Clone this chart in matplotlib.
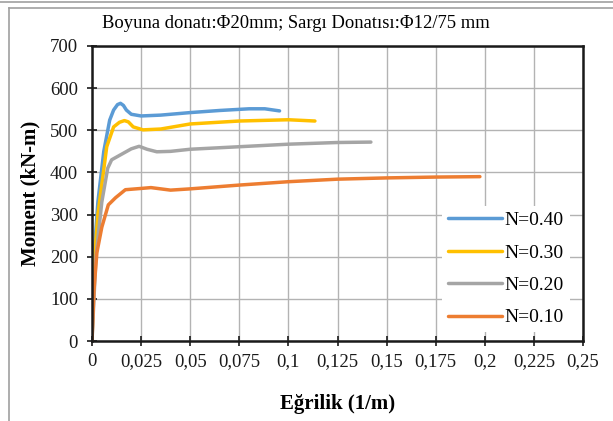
import matplotlib.pyplot as plt
import numpy as np
from matplotlib.lines import Line2D
from matplotlib.ticker import FuncFormatter, MultipleLocator

plt.rcParams['font.family'] = ['Liberation Serif', 'DejaVu Serif']

# curvature (1/m) and moment (kN-m)
k_40 = [0, 0.001, 0.003, 0.006, 0.009, 0.011, 0.013, 0.0145, 0.016, 0.0175,
        0.020, 0.025, 0.035, 0.050, 0.065, 0.080, 0.088, 0.0955]
m_40 = [0, 200, 330, 450, 524, 548, 561, 564, 559, 548,
        538, 534, 536, 542, 547, 551, 551, 546]

k_30 = [0, 0.001, 0.003, 0.0075, 0.011, 0.014, 0.0165, 0.0185, 0.021, 0.026,
        0.035, 0.050, 0.075, 0.100, 0.1135]
m_30 = [0, 180, 300, 461, 508, 519, 523, 520, 508, 501,
        503, 515, 522, 525, 522]

k_20 = [0, 0.002, 0.005, 0.008, 0.010, 0.015, 0.020, 0.024, 0.028, 0.033,
        0.040, 0.050, 0.075, 0.100, 0.125, 0.142]
m_20 = [0, 200, 330, 410, 430, 443, 456, 462, 455, 449,
        450, 455, 461, 467, 471, 472]

k_10 = [0, 0.001, 0.0025, 0.005, 0.0083, 0.012, 0.017, 0.025, 0.030, 0.035,
        0.040, 0.050, 0.075, 0.100, 0.125, 0.150, 0.175, 0.1975]
m_10 = [0, 120, 210, 270, 323, 340, 359, 362, 364, 361,
        358, 361, 370, 378, 384, 387, 389, 390]

labels = ['N=0.40', 'N=0.30', 'N=0.20', 'N=0.10']
colors = ['#5B9BD5', '#FFC000', '#A5A5A5', '#ED7D31']

fig = plt.figure(figsize=(6.13, 4.21), dpi=100)
ax = fig.add_axes([92 / 613, 1 - 341 / 421, 491 / 613, 295 / 421])

series = [(k_40, m_40), (k_30, m_30), (k_20, m_20), (k_10, m_10)]
for (k, m), lab, col in zip(series, labels, colors):
    ax.plot(k, m, color=col, lw=2.5, label=lab, solid_capstyle='round',
            solid_joinstyle='round')

ax.set_xlim(0, 0.25)
ax.set_ylim(0, 700)
ax.xaxis.set_major_locator(MultipleLocator(0.025))
ax.yaxis.set_major_locator(MultipleLocator(100))
ax.xaxis.set_major_formatter(FuncFormatter(
    lambda v, p: '0' if abs(v) < 1e-9 else ('%g' % round(v, 3)).replace('.', ',')))
ax.grid(True, color='#b3b3b3', lw=1.0)
ax.set_axisbelow(True)
for s in ax.spines.values():
    s.set_linewidth(1.8)
    s.set_color('#1a1a1a')
ax.tick_params(direction='inout', length=7, width=1.2, labelsize=13.5,
               colors='#1a1a1a')
ax.tick_params(axis='y', pad=6.5)
ax.tick_params(axis='x', pad=5.5)

ax.set_xlabel('Eğrilik (1/m)', fontsize=15, fontweight='bold', labelpad=17)
ax.set_ylabel('Moment (kN-m)', fontsize=15, fontweight='bold', labelpad=7)

leg = ax.legend(loc='lower right', bbox_to_anchor=(0.973, 0.03), frameon=True,
                prop={'size': 14}, handlelength=2.75, handletextpad=0.15,
                labelspacing=0.76, borderaxespad=0, fancybox=False,
                borderpad=0.3)
leg.get_frame().set_edgecolor('none')
leg.get_frame().set_facecolor('white')
leg.get_frame().set_alpha(1)

fig.text(296 / 613, 1 - 24 / 421,
         'Boyuna donatı:Φ20mm; Sargı Donatısı:Φ12/75 mm',
         ha='center', va='center', fontsize=13.4)

# outer chart frame
fig.add_artist(Line2D([0, 1], [1 - 1.5 / 421] * 2, color='#a0a0a0', lw=1.2))
fig.add_artist(Line2D([9 / 613, 1], [1 - 7.5 / 421] * 2, color='#a0a0a0', lw=1.2))
fig.add_artist(Line2D([9 / 613] * 2, [0, 1 - 7.5 / 421], color='#a0a0a0', lw=1.2))

fig.savefig('out.png', dpi=100)
